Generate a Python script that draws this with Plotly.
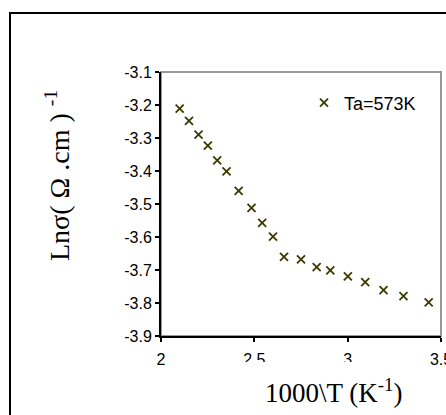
import plotly.graph_objects as go

# Data
inv_T = [2.100, 2.150, 2.201, 2.251, 2.301, 2.351, 2.416, 2.485, 2.542, 2.600,
         2.659, 2.750, 2.834, 2.907, 3.001, 3.094, 3.192, 3.299, 3.434]
ln_sigma = [-3.211, -3.248, -3.290, -3.323, -3.368, -3.401, -3.460, -3.512, -3.557, -3.599,
            -3.660, -3.668, -3.691, -3.701, -3.719, -3.737, -3.761, -3.779, -3.798]
series_name = "Ta=573K"
x_ticks = [2, 2.5, 3, 3.5]
y_ticks = [-3.9, -3.8, -3.7, -3.6, -3.5, -3.4, -3.3, -3.2, -3.1]

W, H = 446, 415
L, R, T, B = 161, 5, 72, 79
pw, ph = W - L - R, H - T - B


def px_x(p):
    return (p - L) / pw


def px_y(p):
    return (H - B - p) / ph


MARK = "#3a3a00"

fig = go.Figure()
fig.add_trace(go.Scatter(
    x=inv_T, y=ln_sigma, mode="markers", name=series_name,
    marker=dict(symbol="x-thin", size=8, line=dict(color=MARK, width=1.8), color=MARK),
))

fig.update_layout(
    width=W, height=H,
    margin=dict(l=L, r=R, t=T, b=B, pad=0, autoexpand=False),
    paper_bgcolor="white", plot_bgcolor="white",
    font=dict(family="Liberation Sans, Arial", size=16, color="black"),
    showlegend=True,
    legend=dict(x=px_x(304), y=px_y(103), xanchor="left", yanchor="middle",
                bgcolor="rgba(0,0,0,0)", font=dict(size=18, family="Liberation Sans, Arial"),
                itemsizing="trace", borderwidth=0, tracegroupgap=0),
    xaxis=dict(range=[2, 3.5], tickvals=x_ticks, ticktext=[str(v) for v in x_ticks],
               showgrid=False, zeroline=False, showline=True, linecolor="black", linewidth=2,
               ticks="outside", ticklen=4, tickwidth=1.5, tickcolor="black", automargin=False,
               ticklabeloverflow="allow", ticklabelstandoff=4, tickfont=dict(size=16)),
    yaxis=dict(range=[-3.9, -3.1], tickvals=y_ticks, ticktext=["%.1f" % v for v in y_ticks],
               showgrid=False, zeroline=False, showline=True, linecolor="black", linewidth=2,
               ticks="outside", ticklen=4, tickwidth=1.5, tickcolor="black", automargin=False,
               ticklabeloverflow="allow", tickfont=dict(size=16)),
)

shapes = [
    # gray frame (top/right)
    dict(type="rect", xref="paper", yref="paper", x0=0, x1=1, y0=0, y1=1,
         line=dict(color="#999999", width=2), layer="below"),
    # outer black border (cropped on right and bottom)
    dict(type="rect", xref="paper", yref="paper", x0=px_x(10), x1=px_x(470),
         y0=px_y(440), y1=px_y(13), line=dict(color="black", width=2), layer="below"),
    # white masks reproducing the clipped text in the reference
    dict(type="rect", xref="paper", yref="paper", x0=px_x(225), x1=px_x(380),
         y0=px_y(375), y1=px_y(362), line=dict(width=0), fillcolor="white", layer="above"),
    dict(type="rect", xref="paper", yref="paper", x0=px_x(200), x1=px_x(446),
         y0=px_y(415), y1=px_y(400), line=dict(width=0), fillcolor="white", layer="above"),
]
fig.update_layout(shapes=shapes)

serif = "Liberation Serif, Times New Roman, serif"
fig.add_annotation(
    text="Lnσ( Ω .cm ) <sup>-1</sup>", textangle=-90, showarrow=False,
    xref="paper", yref="paper", x=px_x(57), y=px_y(176), xanchor="center", yanchor="middle",
    font=dict(family=serif, size=28, color="black"),
)
fig.add_annotation(
    text="1000\\T (K<sup>-1</sup>)", showarrow=False,
    xref="paper", yref="paper", x=px_x(334), y=px_y(391), xanchor="center", yanchor="middle",
    font=dict(family=serif, size=27, color="black"),
)

fig.write_html("out.html")
